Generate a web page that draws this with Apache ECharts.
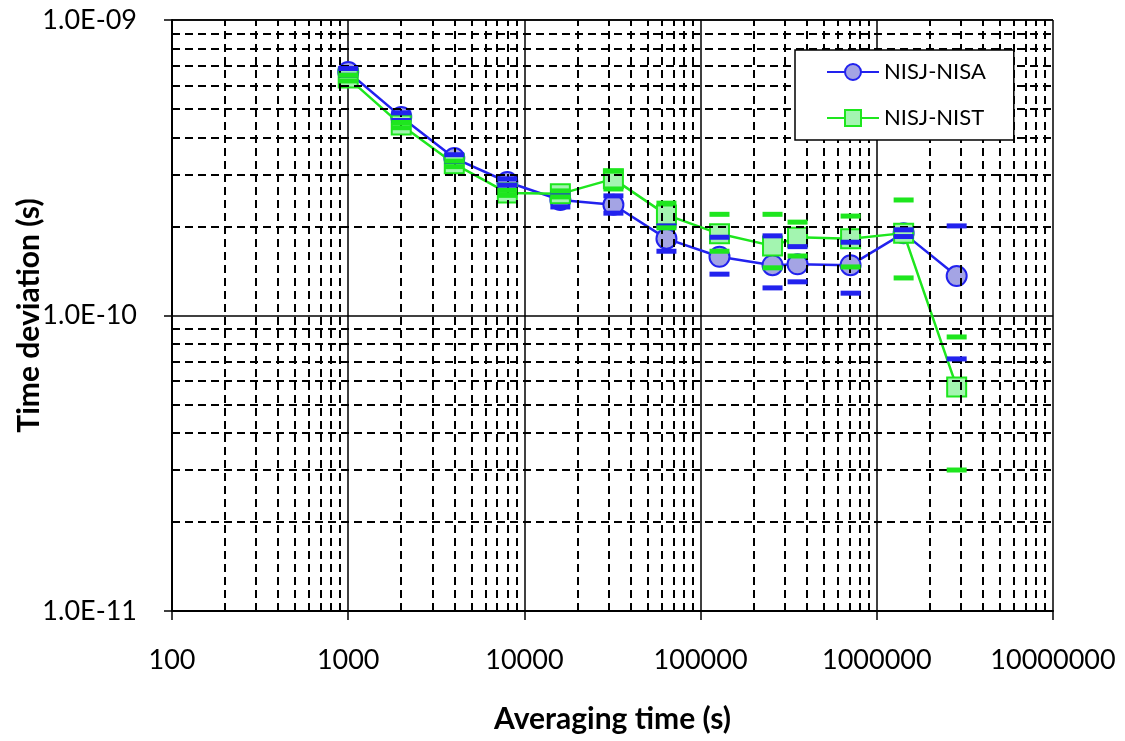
<!DOCTYPE html>
<html><head><meta charset="utf-8">
<script src="https://cdn.jsdelivr.net/npm/echarts@6/dist/echarts.min.js"></script>
<style>html,body{margin:0;padding:0;background:#fff}#c{width:1125px;height:741px}</style>
</head><body><div id="c"></div>
<script>
// Averaging time (s)
const tau = [1000, 2000, 4000, 8000, 16000, 32000, 64000, 128000, 256000, 355000, 710000, 1420000, 2840000];
// NISJ-NISA time deviation (s)
const nisaDev   = [6.67e-10, 4.70e-10, 3.41e-10, 2.83e-10, 2.46e-10, 2.37e-10, 1.82e-10, 1.58e-10, 1.48e-10, 1.49e-10, 1.48e-10, 1.90e-10, 1.36e-10];
const nisaUpper = [6.85e-10, 4.85e-10, 3.50e-10, 2.90e-10, 2.58e-10, 2.54e-10, 2.01e-10, 1.84e-10, 1.86e-10, 1.71e-10, 1.77e-10, 1.95e-10, 2.01e-10];
const nisaLower = [6.50e-10, 4.57e-10, 3.32e-10, 2.76e-10, 2.33e-10, 2.22e-10, 1.65e-10, 1.38e-10, 1.24e-10, 1.30e-10, 1.19e-10, 1.85e-10, 7.13e-11];
// NISJ-NIST time deviation (s)
const nistDev   = [6.36e-10, 4.41e-10, 3.26e-10, 2.60e-10, 2.58e-10, 2.90e-10, 2.19e-10, 1.89e-10, 1.72e-10, 1.84e-10, 1.82e-10, 1.90e-10, 5.73e-11];
const nistUpper = [6.50e-10, 4.50e-10, 3.33e-10, 2.65e-10, 2.64e-10, 3.08e-10, 2.40e-10, 2.20e-10, 2.20e-10, 2.07e-10, 2.17e-10, 2.46e-10, 8.46e-11];
const nistLower = [6.22e-10, 4.32e-10, 3.19e-10, 2.55e-10, 2.52e-10, 2.68e-10, 1.98e-10, 1.65e-10, 1.45e-10, 1.59e-10, 1.46e-10, 1.34e-10, 3.00e-11];
// tick labels keyed by decade exponent
const xTickLabels = {2: '100', 3: '1000', 4: '10000', 5: '100000', 6: '1000000', 7: '10000000'};
const yTickLabels = {'-11': '1.0E-11', '-10': '1.0E-10', '-9': '1.0E-09'};
// axis range
const xRange = [100, 10000000];
const yRange = [1e-11, 1e-9];
// minor grid multipliers
const minorSteps = [2, 3, 4, 5, 6, 7, 8, 9];
const xDecades = [100, 1000, 10000, 100000, 1000000];
const yDecades = [1e-11, 1e-10];

const xMinor = [];
xDecades.forEach(d => minorSteps.forEach(k => xMinor.push(k * d)));
const yMinor = [];
yDecades.forEach(d => minorSteps.forEach(k => yMinor.push(parseFloat((k * d).toPrecision(3)))));

const FONT = 'Lato';
const BLUE = '#2222ee';
const GREEN = '#1ee61e';

const minorLines = xMinor.map(v => [{coord: [v, yRange[0]]}, {coord: [v, yRange[1]]}])
  .concat(yMinor.map(v => [{coord: [xRange[0], v]}, {coord: [xRange[1], v]}]));

const chart = echarts.init(document.getElementById('c'), null, {renderer: 'canvas'});
chart.setOption({
  animation: false,
  backgroundColor: '#fff',
  grid: {left: 172, right: 72, top: 20, bottom: 130, containLabel: false, outerBoundsMode: 'none'},
  legend: {
    data: ['NISJ-NISA', 'NISJ-NIST'],
    orient: 'vertical', left: 795, top: 50, z: 50,
    itemWidth: 52, itemHeight: 20, itemGap: 24,
    padding: [11, 28, 11, 31],
    borderColor: '#000', borderWidth: 1.5, backgroundColor: '#fff',
    textStyle: {fontSize: 22, fontFamily: FONT, color: '#000'}
  },
  xAxis: {
    type: 'log', logBase: 10, min: xRange[0], max: xRange[1],
    name: 'Averaging time (s)', nameLocation: 'middle', nameGap: 93, nameMoveOverlap: false,
    nameTextStyle: {fontSize: 30, fontWeight: 'bold', fontFamily: FONT, color: '#000'},
    axisLine: {show: true, onZero: false, lineStyle: {color: '#000', width: 2}},
    axisTick: {show: true, length: 9, lineStyle: {color: '#000', width: 1.5}},
    axisLabel: {fontSize: 27, fontFamily: FONT, color: '#000', margin: 36,
      formatter: v => xTickLabels[Math.round(Math.log10(v))]},
    splitLine: {show: true, lineStyle: {color: '#000', width: 1.5, type: 'solid'}}
  },
  yAxis: {
    type: 'log', logBase: 10, min: yRange[0], max: yRange[1],
    name: 'Time deviation (s)', nameLocation: 'middle', nameGap: 128, nameMoveOverlap: false,
    nameTextStyle: {fontSize: 30, fontWeight: 'bold', fontFamily: FONT, color: '#000'},
    axisLine: {show: true, onZero: false, lineStyle: {color: '#000', width: 2}},
    axisTick: {show: true, length: 8, lineStyle: {color: '#000', width: 1.5}},
    axisLabel: {fontSize: 27, fontFamily: FONT, color: '#000', margin: 35,
      formatter: v => yTickLabels[String(Math.round(Math.log10(v)))]},
    splitLine: {show: true, lineStyle: {color: '#000', width: 1.5, type: 'solid'}}
  },
  series: [
    {
      name: 'minorGrid', type: 'line', data: [], z: 1, silent: true,
      markLine: {
        silent: true, symbol: ['none', 'none'], animation: false,
        label: {show: false},
        lineStyle: {color: '#000', width: 2, type: [8, 5]},
        emphasis: {disabled: true},
        data: minorLines
      }
    },
    {
      name: 'NISJ-NISA', type: 'line', z: 3,
      data: tau.map((t, i) => [t, nisaDev[i]]),
      symbol: 'circle', symbolSize: 20,
      lineStyle: {color: BLUE, width: 2.5},
      itemStyle: {color: '#a4a4e4', borderColor: BLUE, borderWidth: 2}
    },
    {
      name: 'NISJ-NIST', type: 'line', z: 4,
      data: tau.map((t, i) => [t, nistDev[i]]),
      symbol: 'rect', symbolSize: 19,
      lineStyle: {color: GREEN, width: 2.5},
      itemStyle: {color: '#a3f5b0', borderColor: GREEN, borderWidth: 2}
    },
    {
      name: 'nisaErr', type: 'scatter', z: 6, silent: true,
      symbol: 'rect', symbolSize: [20, 5],
      itemStyle: {color: BLUE, opacity: 1},
      data: tau.map((t, i) => [t, nisaUpper[i]]).concat(tau.map((t, i) => [t, nisaLower[i]]))
    },
    {
      name: 'nistErr', type: 'scatter', z: 7, silent: true,
      symbol: 'rect', symbolSize: [20, 5],
      itemStyle: {color: GREEN, opacity: 1},
      data: tau.map((t, i) => [t, nistUpper[i]]).concat(tau.map((t, i) => [t, nistLower[i]]))
    }
  ]
});
</script>
</body></html>
